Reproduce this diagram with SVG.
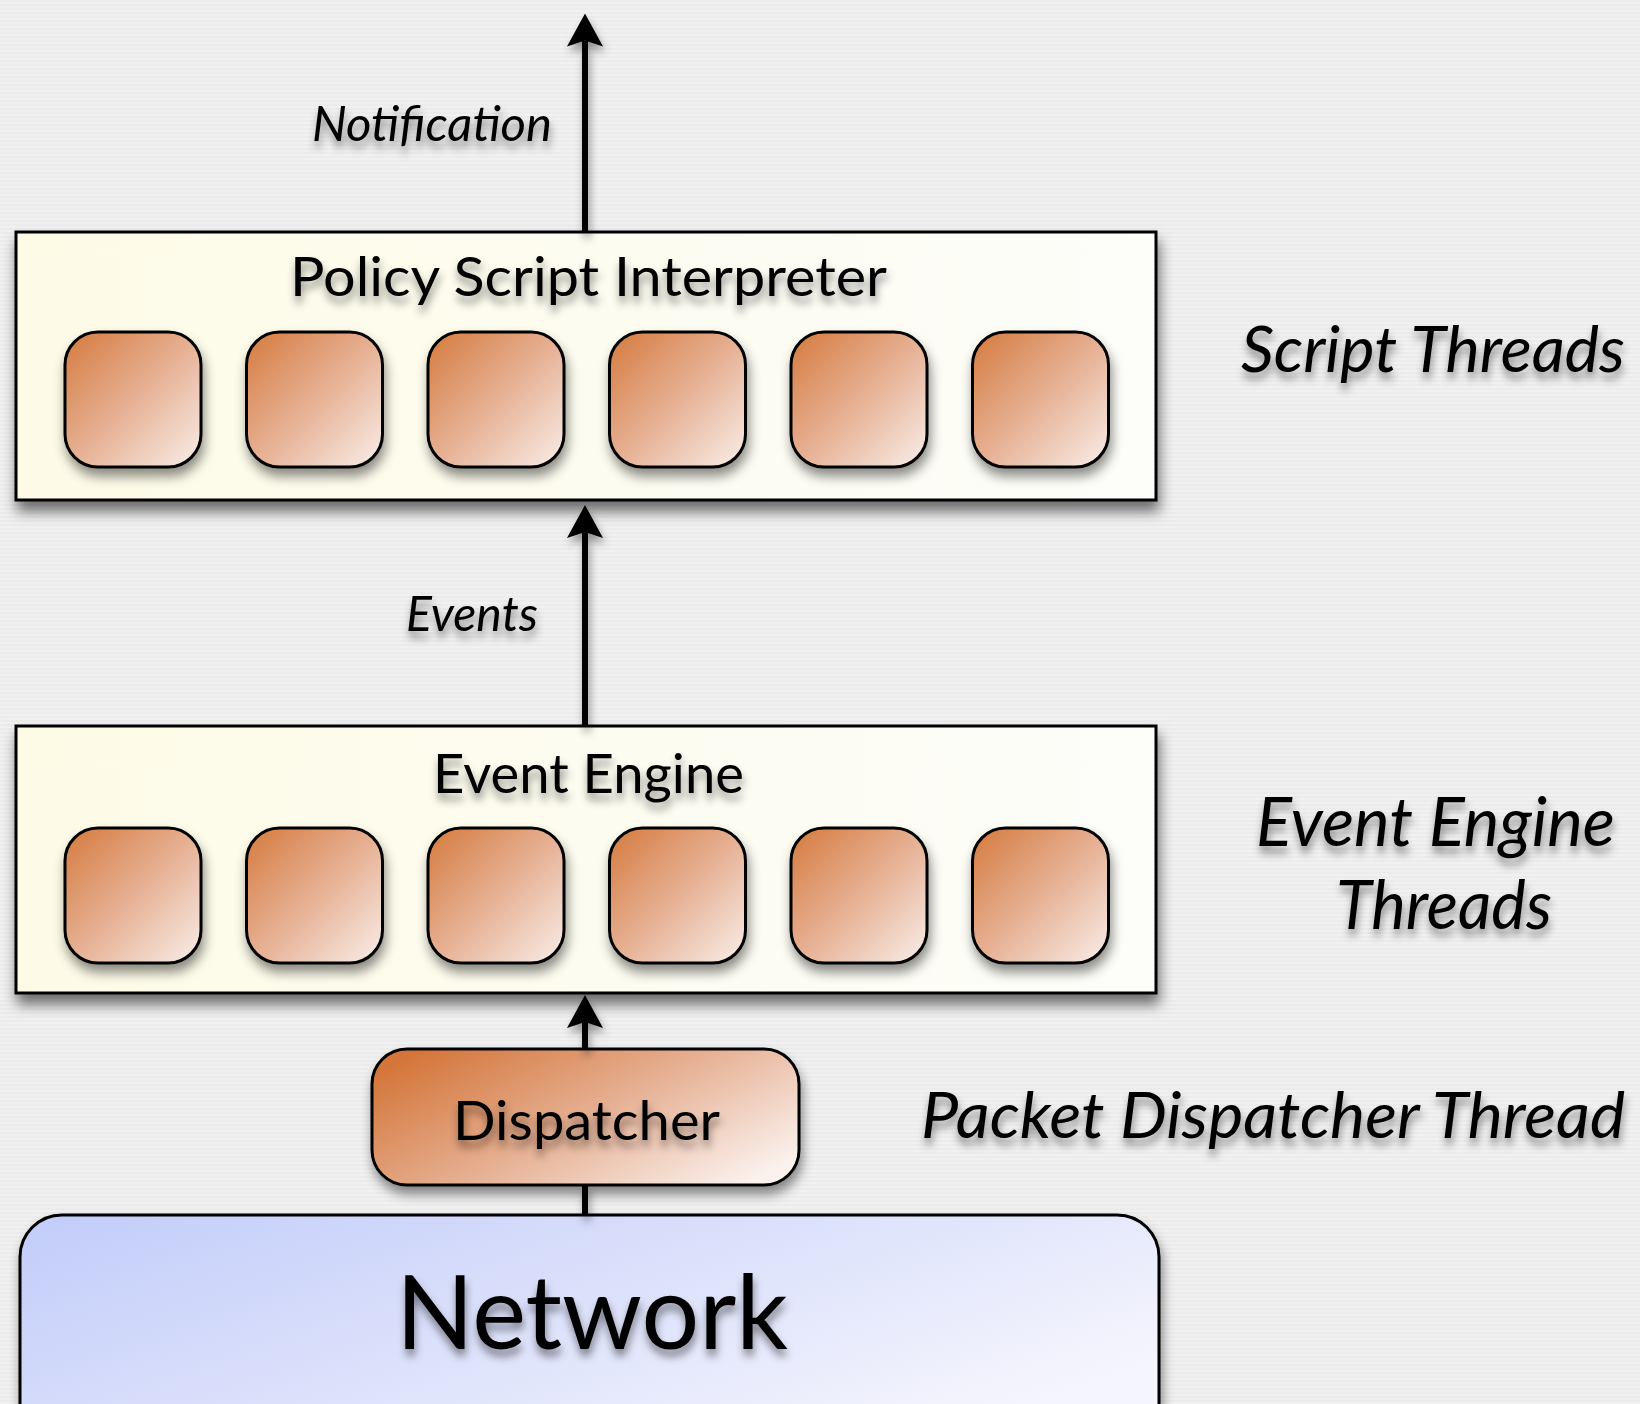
<svg xmlns="http://www.w3.org/2000/svg" width="1640" height="1404" viewBox="0 0 1640 1404">
<style>
.t{font-family:Lato,"Open Sans","Liberation Sans",sans-serif;fill:#000;filter:url(#tshadow)}
.it{font-style:italic}
.big{fill:url(#cream);stroke:#000;stroke-width:3;filter:url(#bshadow)}
.th{fill:url(#orange);stroke:#000;stroke-width:3;filter:url(#sshadow)}
.conn{stroke:#000;stroke-width:6;fill:none}
</style>
<defs>
<pattern id="stripes" width="8" height="4" patternUnits="userSpaceOnUse">
<rect width="8" height="4" fill="#f1f1f1"/>
<rect width="8" height="2" fill="#ececec"/>
</pattern>
<linearGradient id="cream" x1="0" y1="0" x2="1" y2="0">
<stop offset="0" stop-color="#fdfbe6"/>
<stop offset="1" stop-color="#fdfdfa"/>
</linearGradient>
<linearGradient id="orange" x1="0" y1="0" x2="1" y2="1">
<stop offset="0" stop-color="#d57a3e"/>
<stop offset="0.5" stop-color="#e6b093"/>
<stop offset="1" stop-color="#f9eee9"/>
</linearGradient>
<linearGradient id="disp" x1="0" y1="0.2" x2="1" y2="0.8">
<stop offset="0" stop-color="#d4763a"/>
<stop offset="0.5" stop-color="#e6b093"/>
<stop offset="1" stop-color="#fbf2ee"/>
</linearGradient>
<linearGradient id="net" x1="0" y1="0" x2="1" y2="0.6">
<stop offset="0" stop-color="#c1ccf9"/>
<stop offset="1" stop-color="#f5f5fd"/>
</linearGradient>
<filter id="bshadow" x="-10%" y="-10%" width="125%" height="135%">
<feDropShadow dx="2" dy="10" stdDeviation="7" flood-color="#000" flood-opacity="0.55"/>
</filter>
<filter id="sshadow" x="-20%" y="-20%" width="150%" height="150%">
<feDropShadow dx="2" dy="8" stdDeviation="6" flood-color="#000" flood-opacity="0.45"/>
</filter>
<filter id="tshadow" filterUnits="userSpaceOnUse" x="0" y="0" width="1640" height="1404">
<feDropShadow dx="1" dy="7" stdDeviation="4" flood-color="#000" flood-opacity="0.45"/>
</filter>
<filter id="lshadow" filterUnits="userSpaceOnUse" x="0" y="0" width="1640" height="1404">
<feDropShadow dx="2" dy="6" stdDeviation="4" flood-color="#000" flood-opacity="0.4"/>
</filter>
<marker id="ah" viewBox="0 -18 33 36" refX="6" refY="0" markerWidth="33" markerHeight="36" markerUnits="userSpaceOnUse" orient="auto">
<path d="M33,0 L0,-18 L6,0 L0,18 Z" fill="#000"/>
</marker>
</defs>
<rect width="1640" height="1404" fill="url(#stripes)"/>

<g id="policy-script-interpreter">
<rect class="big" x="16" y="232" width="1140" height="268"/>
<text class="t" x="290" y="296" font-size="54" textLength="597" lengthAdjust="spacingAndGlyphs">Policy Script Interpreter</text>
</g>
<g id="script-threads">
<rect class="th" x="65" y="332" width="136" height="135" rx="33"/>
<rect class="th" x="246.5" y="332" width="136" height="135" rx="33"/>
<rect class="th" x="428" y="332" width="136" height="135" rx="33"/>
<rect class="th" x="609.5" y="332" width="136" height="135" rx="33"/>
<rect class="th" x="791" y="332" width="136" height="135" rx="33"/>
<rect class="th" x="972.5" y="332" width="136" height="135" rx="33"/>
</g>

<g id="event-engine">
<rect class="big" x="16" y="726" width="1140" height="267"/>
<text class="t" x="433" y="793" font-size="54" textLength="311" lengthAdjust="spacingAndGlyphs">Event Engine</text>
</g>
<g id="event-engine-threads">
<rect class="th" x="65" y="828" width="136" height="135" rx="33"/>
<rect class="th" x="246.5" y="828" width="136" height="135" rx="33"/>
<rect class="th" x="428" y="828" width="136" height="135" rx="33"/>
<rect class="th" x="609.5" y="828" width="136" height="135" rx="33"/>
<rect class="th" x="791" y="828" width="136" height="135" rx="33"/>
<rect class="th" x="972.5" y="828" width="136" height="135" rx="33"/>
</g>

<g id="dispatcher">
<rect x="372" y="1049" width="427" height="136" rx="35" fill="url(#disp)" stroke="#000" stroke-width="3" filter="url(#sshadow)"/>
<text class="t" x="453" y="1140" font-size="55" textLength="267" lengthAdjust="spacingAndGlyphs">Dispatcher</text>
</g>

<g id="network">
<rect x="20" y="1215" width="1139" height="240" rx="42" fill="url(#net)" stroke="#000" stroke-width="3" filter="url(#sshadow)"/>
<text class="t" x="396" y="1349" font-size="102" textLength="392" lengthAdjust="spacingAndGlyphs">Network</text>
</g>

<g id="labels">
<text class="t it" x="312" y="141" font-size="49" textLength="240" lengthAdjust="spacingAndGlyphs">Notification</text>
<text class="t it" x="406" y="631" font-size="49" textLength="132" lengthAdjust="spacingAndGlyphs">Events</text>
<text class="t it" x="1241" y="372" font-size="64" textLength="384" lengthAdjust="spacingAndGlyphs">Script Threads</text>
<text class="t it" x="1256" y="846" font-size="68" textLength="359" lengthAdjust="spacingAndGlyphs">Event Engine</text>
<text class="t it" x="1336" y="929" font-size="68" textLength="216" lengthAdjust="spacingAndGlyphs">Threads</text>
<text class="t it" x="921" y="1138" font-size="64" textLength="704" lengthAdjust="spacingAndGlyphs">Packet Dispatcher Thread</text>
</g>

<g id="connectors" filter="url(#lshadow)">
<line class="conn" x1="585" y1="232" x2="585" y2="40.5" marker-end="url(#ah)"/>
<line class="conn" x1="585" y1="726" x2="585" y2="532" marker-end="url(#ah)"/>
<line class="conn" x1="585" y1="1049" x2="585" y2="1022" marker-end="url(#ah)"/>
<line class="conn" x1="585" y1="1185" x2="585" y2="1215"/>
</g>
</svg>
